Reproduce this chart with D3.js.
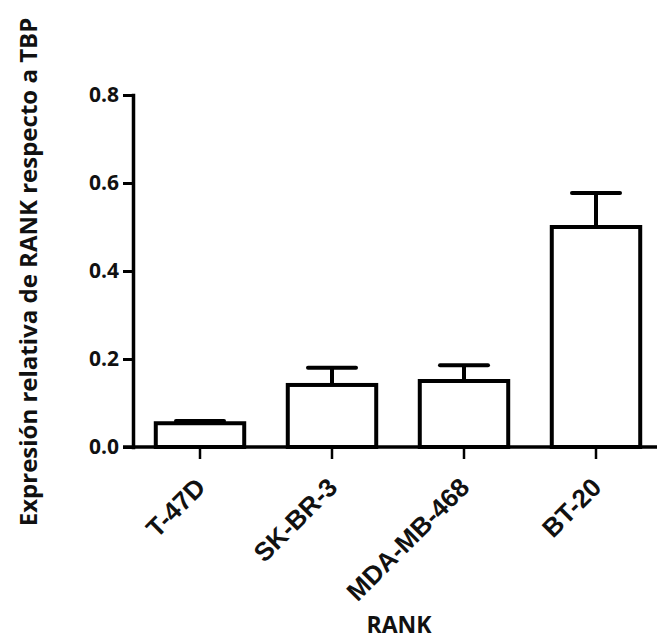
<!DOCTYPE html>
<meta charset="utf-8">
<script src="https://d3js.org/d3.v7.min.js"></script>
<style>
  body { margin: 0; background: #fff; }
</style>
<div id="chart"></div>
<script>
  // cell lines and RANK expression relative to TBP (mean +/- error)
  var cells = ["T-47D", "SK-BR-3", "MDA-MB-468", "BT-20"];
  var means = [0.054, 0.141, 0.150, 0.500];
  var errs = [0.005, 0.039, 0.036, 0.077];
  var yTicks = [0.0, 0.2, 0.4, 0.6, 0.8];

  var W = 657, H = 639;
  var mLeft = 133, mBottom = 447, mTop = 95;

  var svg = d3.select("#chart").append("svg")
      .attr("width", W)
      .attr("height", H);

  var x = d3.scaleBand()
      .domain(cells)
      .range([mLeft + 1, mLeft + 1 + 4 * 132])
      .paddingInner(0.33)
      .paddingOuter(0.165);

  var y = d3.scaleLinear()
      .domain([0, 0.8])
      .range([mBottom, mTop]);

  var data = cells.map(function(c, i) { return {id: c, v: means[i], e: errs[i]}; });

  // bars
  svg.selectAll(".bar")
    .data(data)
    .enter().append("rect")
      .attr("class", "bar")
      .attr("x", function(d) { return x(d.id); })
      .attr("y", function(d) { return y(d.v); })
      .attr("width", x.bandwidth())
      .attr("height", function(d) { return y(0) - y(d.v); })
      .attr("fill", "#fff")
      .attr("stroke", "#000")
      .attr("stroke-width", 4);

  // error bars (upper only)
  var capW = 48;
  var eb = svg.selectAll(".err")
    .data(data)
    .enter().append("g")
      .attr("class", "err")
      .attr("stroke", "#000")
      .attr("stroke-width", 4);
  eb.append("line")
      .attr("x1", function(d) { return x(d.id) + x.bandwidth() / 2; })
      .attr("x2", function(d) { return x(d.id) + x.bandwidth() / 2; })
      .attr("y1", function(d) { return y(d.v); })
      .attr("y2", function(d) { return y(d.v + d.e); });
  eb.append("line")
      .attr("stroke-linecap", "round")
      .attr("x1", function(d) { return x(d.id) + x.bandwidth() / 2 - capW / 2; })
      .attr("x2", function(d) { return x(d.id) + x.bandwidth() / 2 + capW / 2; })
      .attr("y1", function(d) { return y(d.v + d.e); })
      .attr("y2", function(d) { return y(d.v + d.e); });

  // y axis
  var gy = svg.append("g")
      .attr("transform", "translate(" + mLeft + ",0)")
      .call(d3.axisLeft(y).tickValues(yTicks).tickFormat(d3.format(".1f"))
        .tickSize(10).tickSizeOuter(0).tickPadding(4));
  gy.select(".domain").attr("stroke-width", 3.5).attr("stroke-linecap", "square");
  gy.selectAll(".tick line").attr("stroke-width", 3);
  gy.selectAll("text")
      .attr("font-family", "'Open Sans', sans-serif")
      .attr("font-weight", "bold")
      .attr("font-size", 21)
      .attr("fill", "#111");

  // x axis
  var gx = svg.append("g")
      .attr("transform", "translate(0," + mBottom + ")")
      .call(d3.axisBottom(x).tickSize(12).tickSizeOuter(0));
  gx.select(".domain").attr("stroke-width", 3.5)
      .attr("d", "M" + (mLeft - 10) + ",0H" + (W + 5));
  gx.selectAll(".tick line").attr("stroke-width", 2.5);
  gx.selectAll("text")
      .attr("font-family", "'Liberation Sans', Arial, sans-serif")
      .attr("font-weight", "bold")
      .attr("font-size", 26)
      .attr("fill", "#111")
      .attr("y", 0)
      .attr("dy", 0)
      .attr("text-anchor", "end")
      .attr("transform", "translate(7,42) rotate(-45)");

  // axis titles
  svg.append("text")
      .attr("transform", "translate(37,272) rotate(-90)")
      .attr("text-anchor", "middle")
      .attr("font-family", "'Open Sans', sans-serif")
      .attr("font-weight", "bold")
      .attr("font-size", 24)
      .attr("fill", "#111")
      .text("Expresión relativa de RANK respecto a TBP");

  svg.append("text")
      .attr("x", 399)
      .attr("y", 633)
      .attr("text-anchor", "middle")
      .attr("font-family", "'Open Sans', sans-serif")
      .attr("font-weight", "bold")
      .attr("font-size", 23)
      .attr("fill", "#111")
      .text("RANK");
</script>
